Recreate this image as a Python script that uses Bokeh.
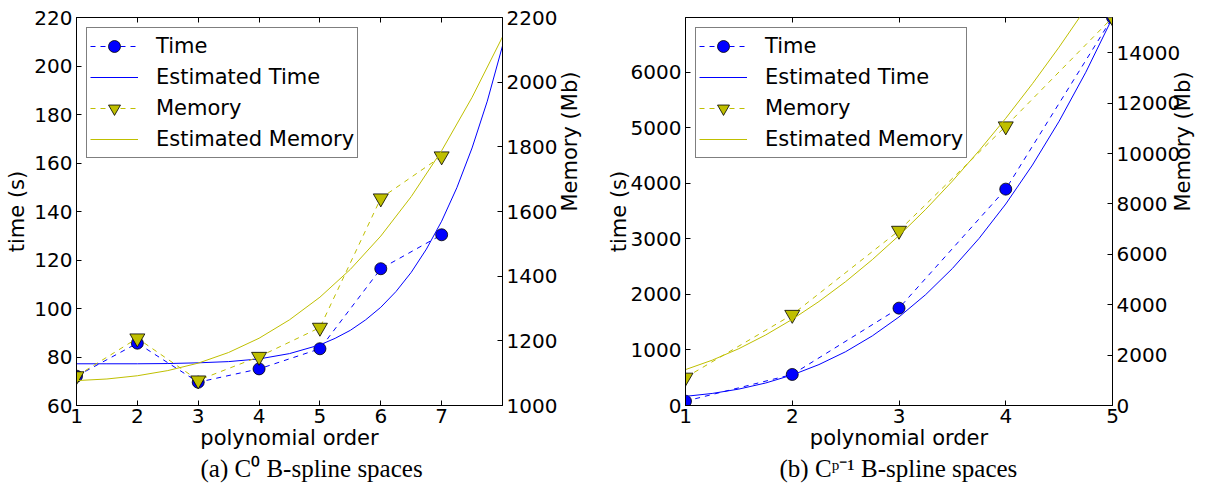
import math
from bokeh.plotting import figure
from bokeh.models import Range1d, LinearAxis, FixedTicker, Legend, LegendItem, Title
from bokeh.layouts import row
from bokeh.embed import file_html
from bokeh.resources import INLINE

# ---------------- data: panel (a) C^0 B-spline spaces ----------------
order_a = [1, 2, 3, 4, 5, 6, 7]
time_a = [72.1, 85.7, 69.6, 75.1, 83.4, 116.4, 130.4]
memory_a = [1091, 1208, 1078, 1151, 1241, 1641, 1771]
est_time_order_a = [1, 1.5, 2, 2.5, 3, 3.5, 4, 4.5, 5, 5.25, 5.5, 5.75, 6, 6.25, 6.5, 6.75, 7, 7.25, 7.5, 7.75, 8]
est_time_a = [77.2, 77.2, 77.2, 77.3, 77.6, 78.1, 79.2, 81.4, 85.0, 87.7, 91.0, 95.3, 100.5, 107.0, 114.9, 124.5,
              136.0, 149.8, 166.2, 185.5, 208.3]
est_mem_order_a = [1, 1.5, 2, 2.5, 3, 3.5, 4, 4.5, 5, 5.5, 6, 6.5, 7, 7.5, 8]
est_memory_a = [1077, 1082, 1092, 1108, 1131, 1164, 1208, 1265, 1335, 1421, 1524, 1646, 1788, 1953, 2140]
x_range_a = (1, 8)
time_range_a = (60, 220)
memory_range_a = (1000, 2200)
x_ticks_a = [1, 2, 3, 4, 5, 6, 7]
time_ticks_a = [60, 80, 100, 120, 140, 160, 180, 200, 220]
memory_ticks_a = [1000, 1200, 1400, 1600, 1800, 2000, 2200]
caption_a = "(a) C\u2070 B-spline spaces"

# ---------------- data: panel (b) C^{p-1} B-spline spaces ----------------
order_b = [1, 2, 3, 4, 5]
time_b = [78, 559, 1754, 3898, 6990]
memory_b = [1112, 3604, 6941, 11085, 15400]
est_order_b = [1, 1.25, 1.5, 1.75, 2, 2.25, 2.5, 2.75, 3, 3.25, 3.5, 3.75, 4, 4.25, 4.5, 4.75, 5]
est_time_b = [165, 217, 296, 405, 550, 737, 969, 1254, 1595, 1998, 2468, 3010, 3630, 4332, 5122, 6004, 6985]
est_memory_b = [1425, 1799, 2256, 2797, 3420, 4127, 4916, 5789, 6745, 7784, 8906, 10112, 11400, 12772, 14226,
                15764, 17385]
x_range_b = (1, 5)
time_range_b = (0, max(time_b))
memory_range_b = (0, max(memory_b))
x_ticks_b = [1, 2, 3, 4, 5]
time_ticks_b = [0, 1000, 2000, 3000, 4000, 5000, 6000]
memory_ticks_b = [0, 2000, 4000, 6000, 8000, 10000, 12000, 14000]
caption_b = "(b) C\u1d56\u207b\u00b9 B-spline spaces"

legend_labels = ["Time", "Estimated Time", "Memory", "Estimated Memory"]
x_label = "polynomial order"
time_label = "time (s)"
memory_label = "Memory (Mb)"

BLUE = "#0000ff"
YELLOW = "#bfbf00"
FONT = "DejaVu Sans"
TICK_SIZE = "20px"
LABEL_SIZE = "21px"
SERIF = "Liberation Serif"


def style_axis(ax, ticks, label=None, standoff=2, label_standoff=4):
    ax.ticker = FixedTicker(ticks=ticks)
    ax.major_tick_in = 5
    ax.major_tick_out = 0
    ax.minor_tick_line_color = None
    ax.axis_line_color = "black"
    ax.major_tick_line_color = "black"
    ax.major_label_text_font = FONT
    ax.major_label_text_font_size = TICK_SIZE
    ax.major_label_text_color = "black"
    ax.major_label_standoff = label_standoff
    if label is not None:
        ax.axis_label = label
        ax.axis_label_text_font = FONT
        ax.axis_label_text_font_size = LABEL_SIZE
        ax.axis_label_text_font_style = "normal"
        ax.axis_label_text_color = "black"
        ax.axis_label_standoff = standoff


def panel(width, bl, br, xr, tr, mr, xt, tt, mt, order, t, m, eto, et, emo, em,
          left_standoff, right_standoff, caption, caption_offset):
    p = figure(width=width, height=486, output_backend="svg", toolbar_location=None,
               x_range=Range1d(*xr), y_range=Range1d(*tr),
               min_border_left=bl, min_border_right=br, min_border_top=17, min_border_bottom=81,
               background_fill_color="white", border_fill_color="white")
    p.outline_line_color = "black"
    p.outline_line_width = 1
    p.xgrid.grid_line_color = None
    p.ygrid.grid_line_color = None
    p.extra_y_ranges = {"mem": Range1d(*mr)}

    style_axis(p.xaxis[0], xt, x_label, standoff=0, label_standoff=3)
    style_axis(p.yaxis[0], tt, time_label, standoff=left_standoff)

    top = LinearAxis()
    style_axis(top, xt)
    top.major_label_overrides = {v: "" for v in xt}
    top.major_label_standoff = 0
    top.axis_line_color = None
    p.add_layout(top, "above")

    rax = LinearAxis(y_range_name="mem")
    style_axis(rax, mt, memory_label, standoff=right_standoff)
    rax.axis_label_orientation = math.pi / 2
    p.add_layout(rax, "right")

    p.add_layout(Title(text=caption, align="left", offset=caption_offset, standoff=0,
                       text_font=SERIF, text_font_size="25px", text_font_style="normal",
                       text_color="black"), "below")

    l_time = p.line(order, t, line_color=BLUE, line_width=1, line_dash="5 5")
    s_time = p.scatter(order, t, marker="circle", size=12, fill_color=BLUE, line_color="black", line_width=0.8)
    l_est_time = p.line(eto, et, line_color=BLUE, line_width=1)
    l_mem = p.line(order, m, line_color=YELLOW, line_width=1, line_dash="5 5", y_range_name="mem")
    s_mem = p.scatter(order, m, marker="inverted_triangle", size=15, fill_color=YELLOW, line_color="black",
                      line_width=0.8, y_range_name="mem")
    l_est_mem = p.line(emo, em, line_color=YELLOW, line_width=1, y_range_name="mem")

    legend = Legend(items=[
        LegendItem(label=legend_labels[0], renderers=[l_time, s_time]),
        LegendItem(label=legend_labels[1], renderers=[l_est_time]),
        LegendItem(label=legend_labels[2], renderers=[l_mem, s_mem]),
        LegendItem(label=legend_labels[3], renderers=[l_est_mem]),
    ], location="top_left")
    legend.margin = 10
    legend.padding = 3
    legend.spacing = 1
    legend.glyph_width = 48
    legend.glyph_height = 30
    legend.label_standoff = 18
    legend.label_text_font = FONT
    legend.label_text_font_size = LABEL_SIZE
    legend.label_text_color = "black"
    legend.border_line_color = "black"
    legend.border_line_width = 1
    legend.background_fill_color = "white"
    legend.background_fill_alpha = 1
    p.add_layout(legend)
    return p


p1 = panel(597, 76, 95, x_range_a, time_range_a, memory_range_a, x_ticks_a, time_ticks_a, memory_ticks_a,
           order_a, time_a, memory_a, est_time_order_a, est_time_a, est_mem_order_a, est_memory_a,
           2, 10, caption_a, 124)

p2 = panel(613, 88, 98, x_range_b, time_range_b, memory_range_b, x_ticks_b, time_ticks_b, memory_ticks_b,
           order_b, time_b, memory_b, est_order_b, est_time_b, est_order_b, est_memory_b,
           -3, 0, caption_b, 94)

layout = row(p1, p2)
open("out.html", "w").write(file_html(layout, INLINE))
